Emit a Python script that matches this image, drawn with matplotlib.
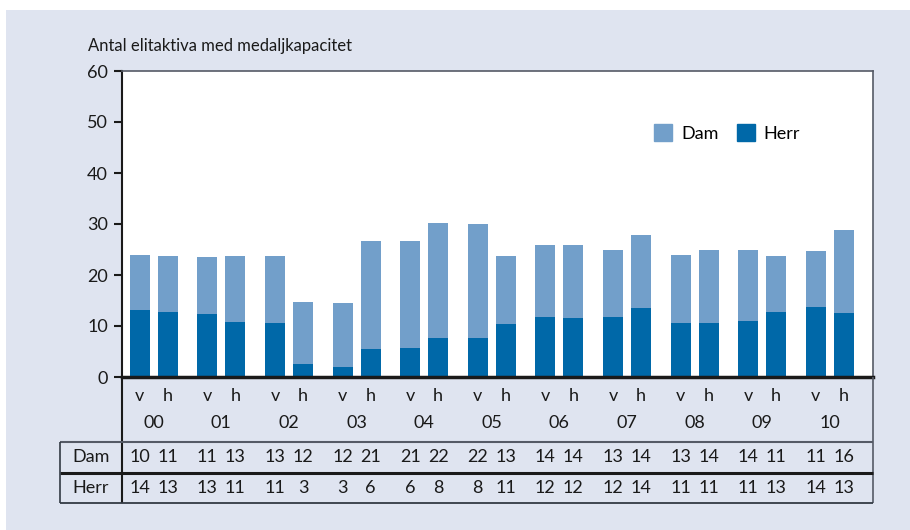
import numpy as np
import matplotlib
matplotlib.use("Agg")
import matplotlib.pyplot as plt
from matplotlib.lines import Line2D
from matplotlib.patches import Rectangle

plt.rcParams['font.family'] = ['Lato', 'DejaVu Sans']

years = ['00', '01', '02', '03', '04', '05', '06', '07', '08', '09', '10']
halves = ['v', 'h']

# bar heights (total height and dark part)
herr_v = [13.1, 12.4, 10.6, 2.0, 5.7, 7.6, 11.8, 11.8, 10.6, 11.0, 13.7]
herr_h = [12.7, 10.8, 2.5, 5.5, 7.6, 10.4, 11.6, 13.5, 10.6, 12.7, 12.5]
total_v = [23.9, 23.5, 23.7, 14.5, 26.7, 30.0, 25.9, 24.9, 23.9, 24.9, 24.7]
total_h = [23.7, 23.7, 14.7, 26.7, 30.2, 23.7, 25.9, 27.8, 24.9, 23.7, 28.8]

# numbers printed in the table below the chart
tab_dam_v = [10, 11, 13, 12, 21, 22, 14, 13, 13, 14, 11]
tab_dam_h = [11, 13, 12, 21, 22, 13, 14, 14, 14, 11, 16]
tab_herr_v = [14, 13, 11, 3, 6, 8, 12, 12, 11, 11, 14]
tab_herr_h = [13, 11, 3, 6, 8, 11, 12, 14, 11, 13, 13]

c_dam = '#729fca'
c_herr = '#0068a8'
bg = '#dfe4f0'
W, H = 910, 530


def fx(px):
    return px / W


def fy(py):
    return 1 - py / H


fig = plt.figure(figsize=(9.1, 5.3), dpi=100, facecolor='white')
fig.add_artist(Rectangle((fx(6), 0), 1, fy(10), transform=fig.transFigure,
                         facecolor=bg, edgecolor='none', zorder=-10))

ax = fig.add_axes([fx(122), fy(377), fx(873) - fx(122), fy(71) - fy(377)])
ax.set_facecolor('white')

x = np.arange(len(years))
off = 0.207
bw = 0.296
dam_v = np.array(total_v) - np.array(herr_v)
dam_h = np.array(total_h) - np.array(herr_h)
ax.bar(x - off, herr_v, bw, color=c_herr, label='Herr')
ax.bar(x - off, dam_v, bw, bottom=herr_v, color=c_dam, label='Dam')
ax.bar(x + off, herr_h, bw, color=c_herr)
ax.bar(x + off, dam_h, bw, bottom=herr_h, color=c_dam)

ax.set_xlim(-0.47, 10.64)
ax.set_ylim(0, 60)
ax.set_yticks(range(0, 61, 10))
ax.set_xticks([])
ax.tick_params(axis='y', length=6, width=1.5, labelsize=13, pad=4, colors='#1a1a1a')
for side in ['top', 'right']:
    ax.spines[side].set_color('#555a66')
    ax.spines[side].set_linewidth(1.2)
ax.spines['left'].set_color('#1a1a1a')
ax.spines['left'].set_linewidth(1.5)
ax.spines['bottom'].set_color('#1a1a1a')
ax.spines['bottom'].set_linewidth(2.5)

ax.text(fx(88), fy(46), 'Antal elitaktiva med medaljkapacitet', transform=fig.transFigure,
        fontsize=12, color='#1a1a1a', va='center', ha='left')

h_dam = Rectangle((0, 0), 1, 1, color=c_dam)
h_herr = Rectangle((0, 0), 1, 1, color=c_herr)
ax.legend([h_dam, h_herr], ['Dam', 'Herr'], loc='center left',
          bbox_to_anchor=(fx(645 - 122) / (fx(873) - fx(122)), (377 - 133) / (377 - 71)),
          ncol=2, frameon=False, fontsize=13, handlelength=1.0, handleheight=1.0,
          handletextpad=0.5, columnspacing=1.0, borderpad=0)

# category and table text, placed below the axes in data x / figure y
trans = matplotlib.transforms.blended_transform_factory(ax.transData, fig.transFigure)
txt = dict(transform=trans, ha='center', va='center', fontsize=13, color='#1a1a1a')
for i in range(len(years)):
    ax.text(x[i] - off, fy(396), halves[0], **txt)
    ax.text(x[i] + off, fy(396), halves[1], **txt)
    ax.text(x[i], fy(423), years[i], **txt)
    ax.text(x[i] - off, fy(457), str(tab_dam_v[i]), **txt)
    ax.text(x[i] + off, fy(457), str(tab_dam_h[i]), **txt)
    ax.text(x[i] - off, fy(488), str(tab_herr_v[i]), **txt)
    ax.text(x[i] + off, fy(488), str(tab_herr_h[i]), **txt)

fig.text(fx(91), fy(457), 'Dam', ha='center', va='center', fontsize=13, color='#1a1a1a')
fig.text(fx(91), fy(488), 'Herr', ha='center', va='center', fontsize=13, color='#1a1a1a')

# table grid
def fline(x0, y0, x1, y1, color, lw):
    fig.add_artist(Line2D([fx(x0), fx(x1)], [fy(y0), fy(y1)], transform=fig.transFigure,
                          color=color, linewidth=lw, solid_capstyle='butt'))

fline(122, 377, 122, 503, '#1a1a1a', 1.5)
fline(873, 377, 873, 503, '#555a66', 1.2)
fline(60, 442, 873, 442, '#555a66', 1.5)
fline(60, 472.5, 873, 472.5, '#1a1a1a', 2.2)
fline(60, 503, 873, 503, '#333a44', 1.3)
fline(60, 442, 60, 503, '#333a44', 1.2)

fig.savefig('out.png', dpi=100, facecolor=fig.get_facecolor())
